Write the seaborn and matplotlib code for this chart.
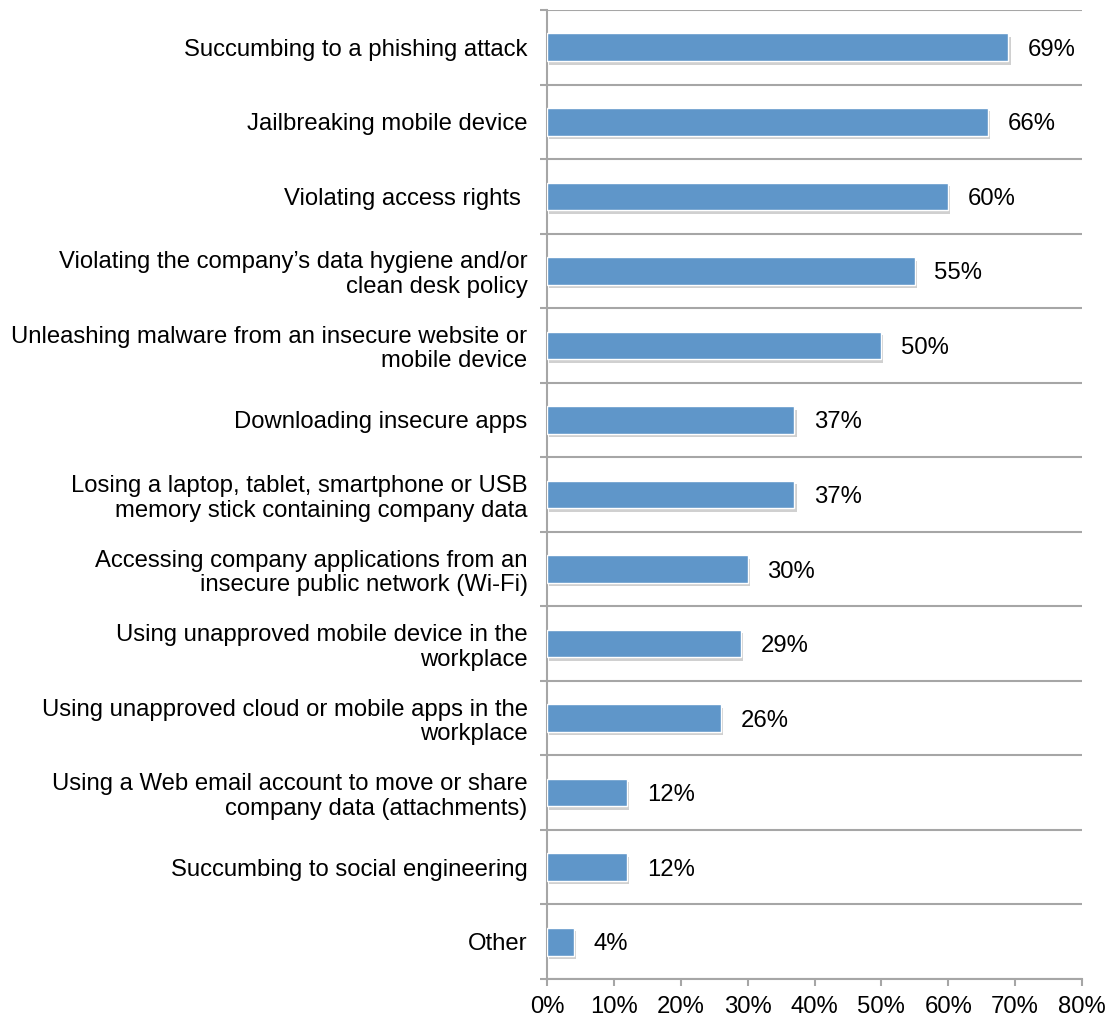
import matplotlib
matplotlib.use("Agg")
import matplotlib.pyplot as plt
import matplotlib.patheffects as pe
from matplotlib.ticker import FixedLocator, PercentFormatter
import seaborn as sns
import pandas as pd

categories = [
    "Succumbing to a phishing attack",
    "Jailbreaking mobile device",
    "Violating access rights ",
    "Violating the company\u2019s data hygiene and/or\nclean desk policy",
    "Unleashing malware from an insecure website or\nmobile device",
    "Downloading insecure apps",
    "Losing a laptop, tablet, smartphone or USB\nmemory stick containing company data",
    "Accessing company applications from an\ninsecure public network (Wi-Fi)",
    "Using unapproved mobile device in the\nworkplace",
    "Using unapproved cloud or mobile apps in the\nworkplace",
    "Using a Web email account to move or share\ncompany data (attachments)",
    "Succumbing to social engineering",
    "Other",
]
values = [69, 66, 60, 55, 50, 37, 37, 30, 29, 26, 12, 12, 4]
x_ticks = [0, 10, 20, 30, 40, 50, 60, 70, 80]

df = pd.DataFrame({"risk": categories, "pct": values})

sns.set_theme(style="white")
plt.rcParams["font.family"] = ["Liberation Sans", "DejaVu Sans"]

grid_color = "#A6A6A6"
bar_color = "#5F96C9"
fs = 17.2

fig = plt.figure(figsize=(11.10, 10.21), dpi=100)
ax = fig.add_axes([0.4928, 0.0411, 0.482, 0.9491])

sns.barplot(data=df, x="pct", y="risk", orient="h", color=bar_color,
            width=0.37, saturation=1, ax=ax, zorder=3)

for patch in ax.patches:
    patch.set_path_effects([
        pe.SimplePatchShadow(offset=(1.5, -2.5), shadow_rgbFace="#666666", alpha=0.3),
        pe.Normal(),
    ])

value_texts = ax.bar_label(ax.containers[0], labels=[f"{v}%" for v in values],
                           padding=14, fontsize=fs, color="black")
for t in value_texts:
    t.set_verticalalignment("center_baseline")

n = len(categories)
ax.set_xlim(0, 80)
ax.set_ylim(n - 0.5, -0.5)
ax.set_xticks(x_ticks)
ax.xaxis.set_major_formatter(PercentFormatter(decimals=0))
ax.set_xlabel("")
ax.set_ylabel("")

# category boundaries: grid lines and left ticks
bounds = [i - 0.5 for i in range(n + 1)]
ax.yaxis.set_minor_locator(FixedLocator(bounds))
ax.grid(axis="y", which="minor", color=grid_color, linewidth=1.5, zorder=0)
ax.grid(axis="x", visible=False)
ax.tick_params(axis="y", which="major", length=0, pad=14, labelsize=fs, colors="black")
ax.tick_params(axis="y", which="minor", length=5, width=1.5, color=grid_color, left=True)
ax.tick_params(axis="x", which="major", length=5, width=1.5, color=grid_color,
               bottom=True, labelsize=fs, labelcolor="black", pad=7)
for lbl in ax.get_yticklabels():
    lbl.set_horizontalalignment("right")
    lbl.set_multialignment("right")
    lbl.set_linespacing(1.15)
    if "\n" not in lbl.get_text():
        lbl.set_verticalalignment("center_baseline")

for side in ["top", "right"]:
    ax.spines[side].set_visible(False)
for side in ["left", "bottom"]:
    ax.spines[side].set_color(grid_color)
    ax.spines[side].set_linewidth(1.5)

fig.savefig("out.png", dpi=100, facecolor="white")
